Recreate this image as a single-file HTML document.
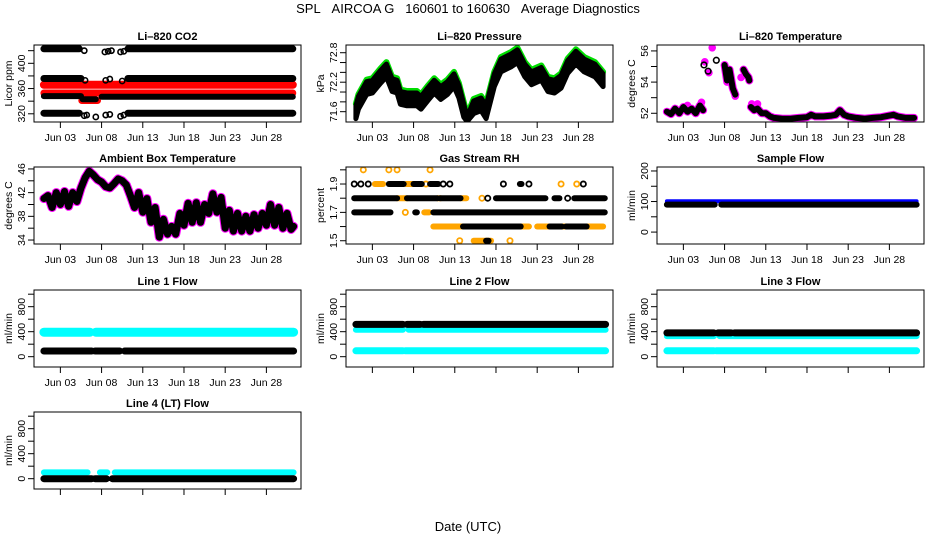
<!DOCTYPE html>
<html><head><meta charset="utf-8"><style>
body{margin:0;background:#fff}
svg{display:block;font-family:"Liberation Sans",Arial,sans-serif}
</style></head><body>
<svg id="chart" width="936" height="540" viewBox="0 0 936 540" xmlns="http://www.w3.org/2000/svg">
<text x="468" y="13" font-size="13" text-anchor="middle">SPL&#160;&#160;&#160;AIRCOA G&#160;&#160;&#160;160601 to 160630&#160;&#160;&#160;Average Diagnostics</text>
<text x="468" y="531" font-size="13" text-anchor="middle">Date (UTC)</text>
</svg>
<script>
const xTickDays = [2,7,12,17,22,27];
const xTickLabels = ["Jun 03","Jun 08","Jun 13","Jun 18","Jun 23","Jun 28"];

const co2TopT=[0,4.3,null,10.2,30.2], co2TopV=[423,423,null,423,423];
const co2B2T=[0,4.5,null,10.2,30.2], co2B2V=[376,376,null,376,376];
const co2B3T=[0,4.5,null,4.7,6.3,null,7.0,30.2], co2B3V=[348,348,null,343,343,null,347,347];
const co2B4T=[0,4.3,null,10.2,30.2], co2B4V=[321,321,null,321,321];
const co2R1T=[0,30.2], co2R1V=[366,366];
const co2R2T=[0,30.2], co2R2V=[353,353];
const co2R3T=[4.6,6.5], co2R3V=[341,341];
const co2PtT=[4.9,7.4,7.8,8.2,9.3,9.7,5.0,7.5,8.0,9.5,4.9,5.2,6.3,7.5,8.0,9.3,9.7];
const co2PtV=[420,418,419,420,418,419,373,373,375,372,317,318,315,318,319,316,318];

const pT=[0,0.3,1.3,2,3,3.7,4.4,5,5.4,6.2,7.4,7.9,8.7,9.5,10.3,11.1,11.9,12.5,13.1,13.5,14.3,15.2,15.8,16.8,17.6,18.8,19.6,20.5,21.3,22.5,23.3,24.1,24.9,25.7,26.7,27.7,29,30];
const pHi=[71.76,71.95,72.25,72.28,72.48,72.61,72.31,72.28,72.05,72.02,72.02,71.95,72.12,72.28,72.15,72.25,72.41,72.18,71.79,71.53,71.86,71.92,71.76,72.41,72.71,72.81,72.9,72.61,72.45,72.54,72.31,72.28,72.38,72.68,72.87,72.71,72.61,72.41];
const pLo=[71.46,71.65,71.95,71.98,72.18,72.31,72.01,71.98,71.75,71.72,71.72,71.65,71.82,71.98,71.85,71.95,72.11,71.88,71.49,71.4,71.56,71.62,71.46,72.11,72.41,72.51,72.6,72.31,72.15,72.24,72.01,71.98,72.08,72.38,72.57,72.41,72.31,72.11];

const ltT=[0,0.5,1,1.5,2,2.5,3,3.5,4,4.4,null,7,7.3,7.6,8,8.3,null,9.3,9.6,9.9,10.0,null,10.2,10.6,11,11.5,12,12.5,13,14,15,16,17,17.5,18,19,20,20.5,21,21.5,22,23,24,25,26,27,27.5,28,29,30];
const ltV=[52.1,51.95,52.3,52.0,52.4,52.1,52.3,52.0,52.5,52.2,null,55.1,54.1,54.8,53.6,53.2,null,54.8,54.5,54.3,54.1,null,52.4,52.2,52.3,52.0,52.0,51.8,51.7,51.65,51.65,51.7,51.75,51.9,51.8,51.8,51.85,51.9,52.2,51.9,51.8,51.7,51.65,51.7,51.75,51.85,51.9,51.8,51.7,51.7];
const ltPtT=[4.5,5.0,6.0];
const ltPtV=[55.1,54.7,55.4];
const ltMagT=[4.2,4.6,5.5,5.1,7.3,8.3,9.0,10.3,11.0,2.5];
const ltMagV=[52.7,55.3,56.2,54.6,54.0,53.1,54.3,52.6,52.6,52.5];

const abT=[0,0.5,1,1.5,2,2.5,3,3.5,4,4.5,5,5.5,6,6.5,7,7.5,8,8.5,9,9.5,10,10.5,11,11.5,12,12.5,13,13.5,14,14.5,15,15.5,16,16.5,17,17.5,18,18.5,19,19.5,20,20.5,21,21.5,22,22.5,23,23.5,24,24.5,25,25.5,26,26.5,27,27.5,28,28.5,29,29.5,30,30.3];
const abV=[41,41.5,39.5,42,40,42.2,39.7,42,40.5,42.8,44.5,45.6,45,44.2,43.8,43,42.8,43.5,44.3,44,43.3,41.5,39.5,42,38.7,41,37,39.5,34.5,37.5,35,36.3,35,38.5,36.5,40.2,37,40.3,37,40,38.5,41.8,38.7,41.2,36,39,35.5,38.5,35.5,38,35.5,38.3,36,38.5,36.5,40,36.5,39.5,36,38.5,35.8,36.3];

const rhBlkLvl=[1.9,1.9,1.9,1.9,1.9,1.9,1.9,1.9,1.9,1.9,1.9,1.9,1.8,1.8,1.8,1.8,1.8,1.8,1.8,1.8,1.7,1.7,1.7,1.6,1.6,1.6,1.5];
const rhBlkS=[-0.2,0.6,1.5,4.0,7.0,9.0,10.6,11.4,17.9,19.9,21,27.6,-0.2,6.2,10.2,16,17,24.1,25.7,26.5,-0.2,7.2,9.4,13,23.5,25.5,15.8];
const rhBlkE=[-0.2,0.6,1.5,5.8,8.0,10.0,10.6,11.4,17.9,20.1,21,27.6,5.0,9.9,12.7,16,23,24.7,25.7,30.2,4.2,7.4,30.2,20,25,28,16.1];
const rhOrgLvl=[2.0,2.0,2.0,2.0,1.9,1.9,1.9,1.9,1.9,1.9,1.8,1.8,1.8,1.8,1.7,1.7,1.6,1.6,1.6,1.6,1.6,1.5,1.5,1.5];
const rhOrgS=[0.9,4.0,5.0,9.0,2.3,4.5,6.1,8.5,24.9,26.8,5.0,9.9,12.7,15.3,6.0,8.3,9.4,19.8,22,25,28.2,12.6,14.3,18.7];
const rhOrgE=[0.9,4.0,5.0,9.0,3.3,5.2,7.0,8.5,24.9,26.8,6.2,10.3,13.4,15.3,6.0,8.9,13.0,21.0,23.5,28.2,30,12.6,16.4,18.7];

const sfBlueT=[0,30.3], sfBlueV=[101,101];
const sfBlkT=[0,5.8,null,6.6,30.3], sfBlkV=[90,90,null,90,90];

const l1CyT=[0,5.6,null,6.3,30.3], l1CyV=[392,392,null,392,392];
const l1BkT=[0,5.8,null,6.2,9.2,null,9.8,30.3], l1BkV=[91,91,null,91,91,null,91,91];
const l2CyLoT=[0,5.7,null,6.0,30.3], l2CyLoV=[95,95,null,95,95];
const l2CyHiT=[0,5.7,null,6.4,30.3], l2CyHiV=[430,430,null,430,430];
const l2BkT=[0,5.7,null,6.2,7.8,null,8.2,30.3], l2BkV=[517,517,null,517,517,null,517,517];
const l3CyLoT=[0,5.7,null,6.0,30.3], l3CyLoV=[95,95,null,95,95];
const l3CyHiT=[0,5.7,null,6.4,30.3], l3CyHiV=[330,330,null,330,330];
const l3BkT=[0,5.7,null,6.2,7.8,null,8.2,30.3], l3BkV=[380,380,null,380,380,null,380,380];
const l4CyT=[0,5.3,null,6.8,7.7,null,8.6,30.3], l4CyV=[100,100,null,100,100,null,100,100];
const l4BkT=[0,5.8,null,6.2,7.6,null,8.3,30.3], l4BkV=[0,0,null,0,0,null,0,0];

const svg=document.getElementById('chart');
const NS='http://www.w3.org/2000/svg';
const colL=[34,346,657], rowT=[45,167,290,412], PW=267, PH=77;
const D0=-1.2, D1=31.2;
function mk(tag,attrs,parent){const e=document.createElementNS(NS,tag);for(const k in attrs)e.setAttribute(k,attrs[k]);(parent||svg).appendChild(e);return e;}

function panel(col,row,name,title,ylab,ymin,ymax,ticks,labels,showX){
  if(showX===undefined)showX=true;
  const L=colL[col],T=rowT[row],B=T+PH;
  const g=mk('g',{});
  
  
  const x=d=>L+(d-D0)/(D1-D0)*PW;
  const y=v=>B-(v-ymin)/(ymax-ymin)*PH;
  const clip=mk('clipPath',{id:'c'+name},g);mk('rect',{x:L,y:T,width:PW,height:PH},clip);
  const data=mk('g',{'clip-path':'url(#c'+name+')'},g);
  
  
  const box=mk('rect',{x:L,y:T,width:PW,height:PH,fill:'none',stroke:'#000','stroke-width':1},g);
  
  
  const t=mk('text',{x:L+PW/2,y:T-5,'font-size':11,'font-weight':'bold','text-anchor':'middle'},g);t.textContent=title;
  
  
  const yl=mk('text',{transform:`translate(${L-22},${(T+B)/2}) rotate(-90)`,'font-size':10.5,'text-anchor':'middle'},g);yl.textContent=ylab;
  
  
  ticks.forEach((v,i)=>{
    const yy=y(v);mk('line',{x1:L-6,x2:L,y1:yy,y2:yy,stroke:'#000'},g);
    if(labels[i]!==''){const tl=mk('text',{transform:`translate(${L-9},${yy}) rotate(-90)`,'font-size':10.5,'text-anchor':'middle'},g);tl.textContent=labels[i];
      
      }
  });
  xTickDays.forEach((d,i)=>{
    const xx=x(d);mk('line',{x1:xx,x2:xx,y1:B,y2:B+6,stroke:'#000'},g);
    if(showX){const tl=mk('text',{x:xx,y:B+19,'font-size':10.5,'text-anchor':'middle'},g);tl.textContent=xTickLabels[i];
      
      }
  });
  return {x,y,g:data};
}
function line(p,T,V,color,w){
  let d='',pen=false;
  for(let i=0;i<T.length;i++){
    if(T[i]===null||V[i]===null){pen=false;continue;}
    d+=(pen?'L':'M')+p.x(T[i]).toFixed(1)+' '+p.y(V[i]).toFixed(1);pen=true;
  }
  const e=mk('path',{d:d,fill:'none',stroke:color,'stroke-width':w,'stroke-linecap':'round','stroke-linejoin':'round'},p.g);
  
  
}
function pts(p,T,V,color,r,fill){
  T.forEach((t,i)=>{const c=mk('circle',{cx:p.x(t),cy:p.y(V[i]),r:r,fill:fill||'none',stroke:color,'stroke-width':1.6},p.g);
    
    });
}
function segs(p,Lv,S,E,color,w){
  Lv.forEach((v,i)=>{
    const yy=p.y(v);
    if(S[i]===E[i]){const c=mk('circle',{cx:p.x(S[i]),cy:yy,r:2.6,fill:'none',stroke:color,'stroke-width':1.8},p.g);
      
      }
    else{const l=mk('line',{x1:p.x(S[i]),x2:p.x(E[i]),y1:yy,y2:yy,stroke:color,'stroke-width':w,'stroke-linecap':'round'},p.g);
      
      }
  });
}

let p=panel(0,0,'co2','Li\u2013820 CO2','Licor ppm',307,429,[320,340,360,380,400,420],['320','','360','','400','']);
line(p,co2R1T,co2R1V,'#ff0000',8);line(p,co2R2T,co2R2V,'#ff0000',7);line(p,co2R3T,co2R3V,'#ff0000',7);
line(p,co2TopT,co2TopV,'#000',7);line(p,co2B2T,co2B2V,'#000',7);line(p,co2B3T,co2B3V,'#000',6);line(p,co2B4T,co2B4V,'#000',7);
pts(p,co2PtT,co2PtV,'#000',2.6);

p=panel(1,0,'pressure','Li\u2013820 Pressure','kPa',71.39,72.957,[71.6,71.8,72.0,72.2,72.4,72.6,72.8],['71.6','','','72.2','','','72.8']);
line(p,pT,pHi,'#00dd00',6);
{let d='';pT.forEach((t,i)=>{d+=(i?'L':'M')+p.x(t).toFixed(1)+' '+(p.y(pHi[i])+2).toFixed(1);});
 for(let i=pT.length-1;i>=0;i--)d+='L'+p.x(pT[i]).toFixed(1)+' '+p.y(pLo[i]).toFixed(1);
 const e=mk('path',{d:d+'Z',fill:'#000',stroke:'#000','stroke-width':5,'stroke-linejoin':'round'},p.g);
 
 }

p=panel(2,0,'li-temp','Li\u2013820 Temperature','degrees C',51.44,56.38,[52,53,54,55,56],['52','','54','','56']);
line(p,ltT,ltV,'#ff00ff',8);
pts(p,ltMagT,ltMagV,'#ff00ff',3,'#ff00ff');
line(p,ltT,ltV,'#000',6);
pts(p,ltPtT,ltPtV,'#000',2.8);

p=panel(0,1,'ambient','Ambient Box Temperature','degrees C',33.33,46.33,[34,36,38,40,42,44,46],['34','','38','','42','','46']);
line(p,abT,abV,'#ff00ff',9);
line(p,abT,abV,'#000',7);

p=panel(1,1,'rh','Gas Stream RH','percent',1.477,2.02,[1.5,1.6,1.7,1.8,1.9,2.0],['1.5','','1.7','','1.9','']);
segs(p,rhOrgLvl,rhOrgS,rhOrgE,'#ffa500',6);
segs(p,rhBlkLvl,rhBlkS,rhBlkE,'#000',6);

p=panel(2,1,'sample-flow','Sample Flow','ml/min',-39,213,[0,50,100,150,200],['0','','100','','200']);
line(p,sfBlueT,sfBlueV,'#0000ff',4);
line(p,sfBlkT,sfBlkV,'#000',6);

const fT=[0,200,400,600,800,1000], fL=['0','','400','','800',''];
p=panel(0,2,'line1-flow','Line 1 Flow','ml/min',-165,1067,fT,fL,true);
line(p,l1CyT,l1CyV,'#00ffff',9);line(p,l1BkT,l1BkV,'#000',7);
p=panel(1,2,'line2-flow','Line 2 Flow','ml/min',-165,1067,fT,fL,false);
line(p,l2CyLoT,l2CyLoV,'#00ffff',7);line(p,l2CyHiT,l2CyHiV,'#00ffff',6);line(p,l2BkT,l2BkV,'#000',7);
p=panel(2,2,'line3-flow','Line 3 Flow','ml/min',-165,1067,fT,fL,false);
line(p,l3CyLoT,l3CyLoV,'#00ffff',7);line(p,l3CyHiT,l3CyHiV,'#00ffff',6);line(p,l3BkT,l3BkV,'#000',7);
p=panel(0,3,'line4-flow','Line 4 (LT) Flow','ml/min',-165,1067,fT,fL,false);
line(p,l4CyT,l4CyV,'#00ffff',6);line(p,l4BkT,l4BkV,'#000',7);
</script>
</body></html>
